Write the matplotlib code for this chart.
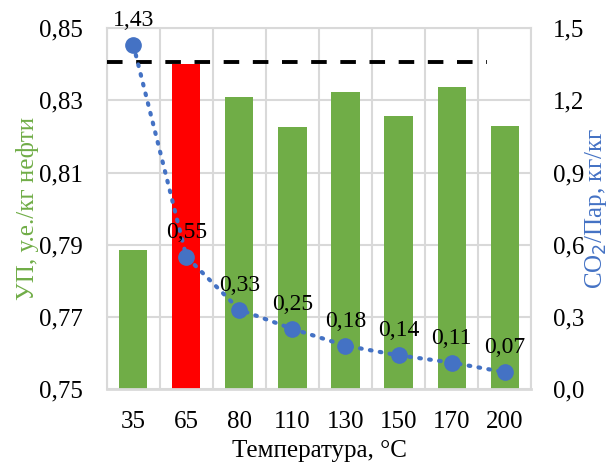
import matplotlib.pyplot as plt
import numpy as np

# данные
temps = ["35", "65", "80", "110", "130", "150", "170", "200"]
up_values = [0.7885, 0.8400, 0.8308, 0.8225, 0.8322, 0.8258, 0.8336, 0.8228]
co2_ratio = [1.43, 0.55, 0.33, 0.25, 0.18, 0.14, 0.11, 0.07]
co2_labels = ["1,43", "0,55", "0,33", "0,25", "0,18", "0,14", "0,11", "0,07"]
best_level = 0.8405
left_ticks = [0.75, 0.77, 0.79, 0.81, 0.83, 0.85]
right_ticks = [0.0, 0.3, 0.6, 0.9, 1.2, 1.5]

plt.rcParams['font.family'] = ['Liberation Serif', 'DejaVu Serif']
green = "#70AD47"
blue = "#4472C4"

fig = plt.figure(figsize=(6.14, 4.62), dpi=100)
ax = fig.add_axes([0.174, 0.158, 0.691, 0.781])
x = np.arange(len(temps))

colors = [green] * len(temps)
colors[1] = "#FF0000"
ax.bar(x, [v - 0.75 for v in up_values], bottom=0.75, width=0.53, color=colors, zorder=2)

ax.set_xlim(-0.5, len(temps) - 0.5)
ax.set_ylim(0.75, 0.85)
ax.set_yticks(left_ticks)
ax.set_yticklabels([f"{t:.2f}".replace(".", ",") for t in left_ticks], fontsize=18)
ax.set_xticks(x)
ax.set_xticklabels(temps, fontsize=18)
ax.tick_params(axis='x', length=0, pad=16)
ax.tick_params(axis='y', length=0, pad=17)

# сетка как в Excel: горизонтальные линии и границы категорий
ax.set_xticks(np.arange(-0.5, len(temps)), minor=True)
ax.grid(axis='y', color="#D9D9D9", lw=1.5, zorder=0)
ax.grid(axis='x', which='minor', color="#D9D9D9", lw=1.5, zorder=0)
ax.grid(axis='x', which='major', visible=False)
ax.tick_params(which='minor', length=0)
for s in ax.spines.values():
    s.set_color("#D9D9D9")
    s.set_linewidth(1.5)
ax.spines['bottom'].set_linewidth(2)

ax.axhline(best_level, xmin=0, xmax=0.897, color="black", lw=2.8,
           dashes=(4, 3.5), zorder=3)

ax.set_ylabel("УП, у.е./кг нефти", color=green, fontsize=18, labelpad=0)
ax.set_xlabel("Температура, °C", fontsize=18, labelpad=5)

ax2 = ax.twinx()
ax2.plot(x, co2_ratio, color=blue, ls=(0, (0.4, 2.0)), lw=3, dash_capstyle='round',
         marker='o', markersize=11, zorder=4)
ax2.set_ylim(0, 1.5)
ax2.set_yticks(right_ticks)
ax2.set_yticklabels([f"{t:.1f}".replace(".", ",") for t in right_ticks], fontsize=18)
ax2.tick_params(length=0, pad=16)
for s in ax2.spines.values():
    s.set_visible(False)
ax2.set_ylabel("CO$_2$/Пар, кг/кг", color=blue, fontsize=18, labelpad=-1)

for xi, v, lab in zip(x, co2_ratio, co2_labels):
    ax2.annotate(lab, (xi, v), xytext=(0, 10), textcoords='offset points',
                 ha='center', va='bottom', fontsize=17, zorder=5)

fig.savefig("out.png", dpi=100)
